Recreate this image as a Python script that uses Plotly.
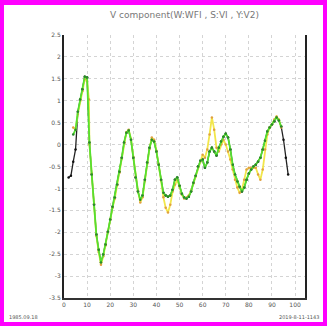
import plotly.graph_objects as go

title_text = "V component(W:WFI , S:VI , Y:V2)"
footer_left = "1985.09.18"
footer_right = "2019-8-11-1143"

x_ticks = [0, 10, 20, 30, 40, 50, 60, 70, 80, 90, 100]
y_ticks = [2.5, 2, 1.5, 1, 0.5, 0, -0.5, -1, -1.5, -2, -2.5, -3, -3.5]

# S series (green)
s_x = list(range(4, 95))
s_y = [0.23, 0.34, 0.75, 1.03, 1.26, 1.55, 1.53, 0.05, -0.68, -1.37,
       -2.05, -2.40, -2.69, -2.51, -2.28, -1.99, -1.71, -1.42, -1.21, -0.91,
       -0.62, -0.30, 0.05, 0.27, 0.32, 0.11, -0.30, -0.75, -1.07, -1.26,
       -1.16, -0.80, -0.41, -0.07, 0.11, 0.07, -0.16, -0.46, -0.80, -1.10,
       -1.16, -1.19, -1.16, -1.03, -0.80, -0.75, -0.94, -1.12, -1.21, -1.23,
       -1.19, -1.07, -0.87, -0.71, -0.50, -0.37, -0.34, -0.53, -0.41, -0.16,
       -0.07, -0.16, -0.25, -0.07, 0.07, 0.18, 0.25, 0.16, -0.11, -0.46,
       -0.68, -0.84, -0.96, -1.07, -0.98, -0.80, -0.66, -0.57, -0.50, -0.46,
       -0.39, -0.30, -0.11, 0.09, 0.30, 0.39, 0.46, 0.53, 0.62, 0.55,
       0.41]

# Y series (yellow)
y_x = [4, 5, 6, 7, 8, 9, 10, 10.8, 11] + list(range(12, 95))
y_y = [0.39, 0.34, 0.70, 1.00, 1.22, 1.50, 1.44, 1.03, 0.00, -0.66, -1.35,
       -2.08, -2.45, -2.74, -2.55, -2.30, -2.00, -1.72, -1.44, -1.23, -0.93,
       -0.64, -0.32, 0.03, 0.28, 0.34, 0.13, -0.28, -0.73, -1.05, -1.32,
       -1.20, -0.83, -0.44, -0.10, 0.16, 0.11, -0.14, -0.44, -0.82, -1.20,
       -1.44, -1.55, -1.37, -1.07, -0.91, -0.80, -0.96, -1.14, -1.23, -1.21,
       -1.16, -1.05, -0.89, -0.73, -0.52, -0.39, -0.23, -0.30, -0.11, 0.23,
       0.62, 0.34, -0.07, -0.16, 0.00, 0.11, 0.00, -0.16, -0.34, -0.57,
       -0.80, -0.98, -1.10, -1.03, -0.80, -0.57, -0.53, -0.53, -0.53, -0.53,
       -0.68, -0.80, -0.57, -0.11, 0.23, 0.39, 0.46, 0.57, 0.64, 0.57,
       0.39]

# W series (black)
w_x = [2, 3, 4, 5] + list(range(6, 95)) + [95, 96, 97]
w_y = [-0.75, -0.71, -0.39, -0.11] + s_y[2:] + [0.11, -0.30, -0.68]

fig = go.Figure()
fig.add_trace(go.Scatter(x=w_x, y=w_y, mode="lines+markers", name="W",
                         line=dict(color="#222222", width=1.3),
                         marker=dict(color="#111111", size=2.5)))
fig.add_trace(go.Scatter(x=y_x, y=y_y, mode="lines+markers", name="Y",
                         line=dict(color="#f2e64a", width=1.8),
                         marker=dict(color="#e0a040", size=2.5)))
fig.add_trace(go.Scatter(x=s_x, y=s_y, mode="lines+markers", name="S",
                         line=dict(color="#55e030", width=1.8),
                         marker=dict(color="#2a8a2a", size=2.5)))

# white page inside the magenta frame
fig.add_shape(type="rect", xref="paper", yref="paper",
              x0=-0.249, x1=1.0747, y0=-0.0913, y1=1.114,
              fillcolor="white", line=dict(width=0), layer="below")

fig.update_layout(
    width=327, height=326,
    margin=dict(l=64, r=22, t=35, b=28),
    paper_bgcolor="#ff00ff", plot_bgcolor="white",
    showlegend=False,
    title=dict(text=title_text, x=(64 + 120.5) / 327, xanchor="center",
               y=1 - 15 / 326, yanchor="middle",
               font=dict(family="DejaVu Sans", size=9, color="#777777")),
    font=dict(family="DejaVu Sans", size=6, color="#555555"),
    annotations=[
        dict(text=footer_left, xref="paper", yref="paper", x=-0.235, y=-0.072,
             xanchor="left", yanchor="middle", showarrow=False,
             font=dict(size=5, color="#555555")),
        dict(text=footer_right, xref="paper", yref="paper", x=1.065, y=-0.072,
             xanchor="right", yanchor="middle", showarrow=False,
             font=dict(size=5, color="#555555")),
    ],
)
fig.update_xaxes(range=[0, 104.3], tickvals=x_ticks, ticktext=[str(v) for v in x_ticks],
                 showgrid=True, gridcolor="#d4d4d4", griddash="dot", gridwidth=1,
                 showline=True, linecolor="#333333", linewidth=1.5, mirror=False,
                 zeroline=False, ticks="", ticklen=2)
fig.update_yaxes(range=[-3.5, 2.5], tickvals=y_ticks, ticktext=[str(v) for v in y_ticks],
                 showgrid=True, gridcolor="#d4d4d4", griddash="dot", gridwidth=1,
                 showline=True, linecolor="#222222", linewidth=2, mirror=True,
                 zeroline=False, ticks="", ticklen=2)

fig.write_html("out.html", config={"displayModeBar": False},
               post_script="document.body.style.margin='0';document.body.style.overflow='hidden';")
